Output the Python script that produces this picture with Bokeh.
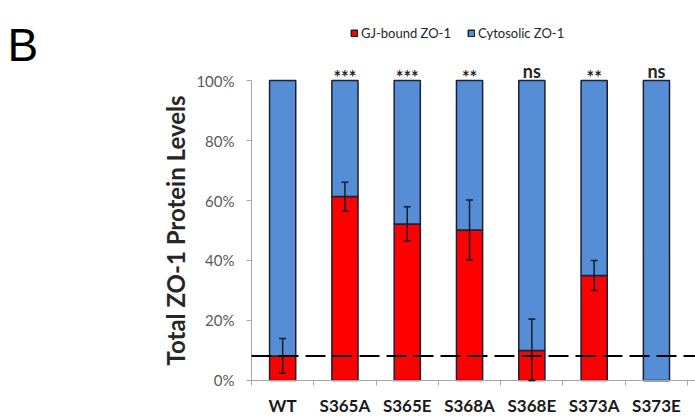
from bokeh.plotting import figure
from bokeh.models import (ColumnDataSource, Range1d, FixedTicker, PrintfTickFormatter,
                          Whisker, TeeHead, Label, Legend, LegendItem)
from bokeh.core.properties import value
from bokeh.embed import file_html
from bokeh.resources import INLINE

# ---- data ----
categories = ["WT", "S365A", "S365E", "S368A", "S368E", "S373A", "S373E"]
gj_bound = [8.2, 61.3, 52.2, 50.2, 10.0, 35.0, 0.0]
gj_err = [5.8, 4.8, 5.7, 10.0, 10.5, 5.0, 0.0]
cytosolic = [91.8, 38.7, 47.8, 49.8, 90.0, 65.0, 100.0]
significance = ["", "***", "***", "**", "ns", "**", "ns"]
y_ticks = [0, 20, 40, 60, 80, 100]

FONT = "Lato"
RED = "#FF0000"
BLUE = "#558ED5"
EDGE = "#1b2035"
ERR = "#141a30"

X_END = 7.127
xpos = [i + 0.5 for i in range(len(categories))]
source = ColumnDataSource(dict(
    x=xpos, cat=categories, gj=gj_bound, cyto=cytosolic,
    top_all=[g + c for g, c in zip(gj_bound, cytosolic)],
))

p = figure(width=695, height=418, output_backend="svg", toolbar_location=None,
           x_range=Range1d(-4.029, X_END), y_range=Range1d(-12.667, 126.667),
           min_border=0)
p.outline_line_color = None
p.xgrid.visible = False
p.ygrid.visible = False
p.background_fill_color = "white"
p.border_fill_color = "white"

r_red = p.vbar(x="x", width=0.42, bottom=0, top="gj", source=source,
               fill_color=RED, line_color=EDGE, line_width=1.5)
r_blue = p.vbar(x="x", width=0.42, bottom="gj", top="top_all", source=source,
                fill_color=BLUE, line_color=EDGE, line_width=1.5)

# error bars
idx = [i for i, e in enumerate(gj_err) if e > 0]
err_src = ColumnDataSource(dict(
    x=[xpos[i] for i in idx],
    upper=[gj_bound[i] + gj_err[i] for i in idx],
    lower=[max(0, gj_bound[i] - gj_err[i]) for i in idx],
))
wh = Whisker(base="x", upper="upper", lower="lower", source=err_src, level="annotation",
             line_color=ERR, line_width=1.5,
             upper_head=TeeHead(size=7, line_color=ERR, line_width=1.5),
             lower_head=TeeHead(size=7, line_color=ERR, line_width=1.5))
p.add_layout(wh)

# reference dashed line at WT level, from the y axis to the right edge
p.segment(x0=[0], x1=[X_END], y0=[gj_bound[0]], y1=[gj_bound[0]],
          line_color="black", line_width=2, line_dash="20 7", level="overlay")

# significance labels
stars_idx = [i for i, s in enumerate(significance) if s.startswith("*")]
ns_idx = [i for i, s in enumerate(significance) if s == "ns"]
p.text(x=[xpos[i] for i in stars_idx], y=[100] * len(stars_idx),
       text=[significance[i] for i in stars_idx], text_align="center",
       text_baseline="alphabetic", y_offset=-4, text_font=value(FONT),
       text_font_style="bold", text_font_size="18px", text_color="#262626")
p.text(x=[xpos[i] for i in ns_idx], y=[100] * len(ns_idx),
       text=[significance[i] for i in ns_idx], text_align="center",
       text_baseline="alphabetic", y_offset=-10, text_font=value(FONT),
       text_font_style="bold", text_font_size="18px", text_color="#262626")

# axes
xa = p.xaxis[0]
xa.fixed_location = 0
xa.bounds = (0, X_END)
xa.ticker = FixedTicker(ticks=xpos, minor_ticks=list(range(len(categories) + 1)))
xa.major_label_overrides = {x: c for x, c in zip(xpos, categories)}
xa.major_tick_out = 0
xa.major_tick_in = 0
xa.minor_tick_out = 5
xa.minor_tick_in = 0
xa.minor_tick_line_color = "#A6A6A6"
xa.axis_line_color = "#A6A6A6"
xa.major_label_text_font = FONT
xa.major_label_text_font_style = "bold"
xa.major_label_text_font_size = "17px"
xa.major_label_text_color = "#1a1a1a"
xa.major_label_standoff = 10

ya = p.yaxis[0]
ya.fixed_location = 0
ya.ticker = FixedTicker(ticks=y_ticks)
ya.formatter = PrintfTickFormatter(format="%d%%")
ya.bounds = (0, 100)
ya.major_tick_out = 5
ya.major_tick_in = 0
ya.minor_tick_line_color = None
ya.major_tick_line_color = "#A6A6A6"
ya.axis_line_color = "#A6A6A6"
ya.major_label_text_font = FONT
ya.major_label_text_font_size = "15px"
ya.major_label_text_color = "#595959"
ya.major_label_standoff = 12
ya.axis_label = "Total ZO-1 Protein Levels"
ya.axis_label_text_font = FONT
ya.axis_label_text_font_style = "bold"
ya.axis_label_text_font_size = "24px"
ya.axis_label_text_color = "#262626"
ya.axis_label_standoff = 3

# legend
legend = Legend(items=[LegendItem(label="GJ-bound ZO-1", renderers=[r_red]),
                       LegendItem(label="Cytosolic ZO-1", renderers=[r_blue])],
                orientation="horizontal", location=(350, 377),
                border_line_color=None, background_fill_alpha=0,
                padding=0, margin=0, spacing=16,
                glyph_width=8, glyph_height=8, label_standoff=3,
                label_text_font=FONT, label_text_font_size="13px",
                label_text_color="#262626")
p.add_layout(legend, "center")

# panel letter
p.add_layout(Label(x=-3.917, y=111.67, text="B", text_font="Liberation Sans",
                   text_baseline="alphabetic",
                   text_font_size="46px", text_color="black"))

open("out.html", "w").write(file_html(p, INLINE))
